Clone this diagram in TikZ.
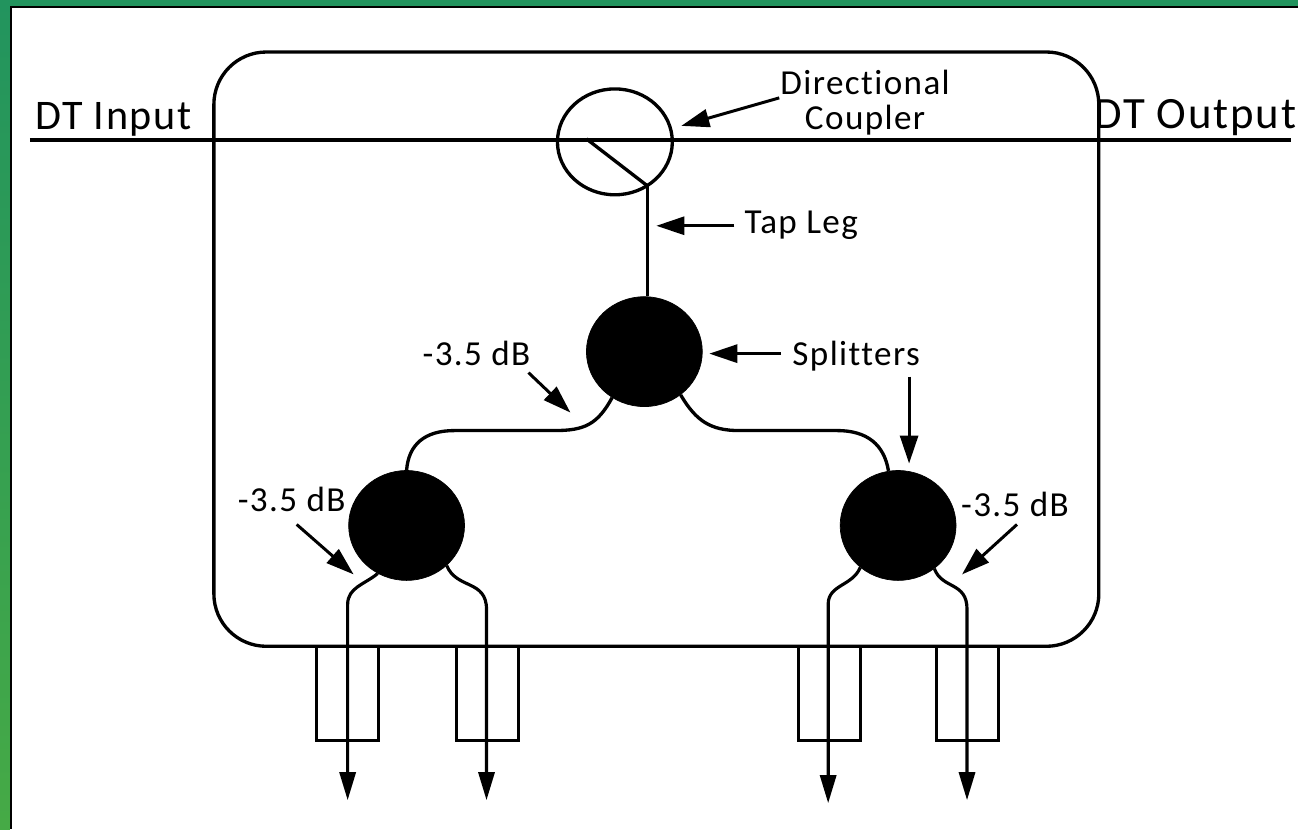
\documentclass[tikz,border=0pt]{standalone}
\usepackage{fontspec}
\setmainfont[LetterSpace=4,Ligatures=NoCommon]{Carlito}
\usetikzlibrary{arrows.meta,shapes.geometric}
\definecolor{framegreen}{HTML}{22945E}
\definecolor{framelight}{HTML}{46AA46}
\begin{document}
\begin{tikzpicture}[
    x=0.02cm, y=-0.02cm,
    wire/.style={line width=1.9pt, black},
    pointer/.style={line width=1.7pt, black, -{Triangle[length=0.56cm, width=0.36cm]}},
    outlet/.style={line width=1.8pt, black, -{Triangle[length=0.56cm, width=0.32cm]}},
    housing/.style={rectangle, draw=black, line width=1.9pt, rounded corners=1.05cm, minimum width=17.72cm, minimum height=11.9cm},
    coupler/.style={ellipse, draw=black, line width=1.9pt, minimum width=2.3cm, minimum height=2.12cm, inner sep=0pt},
    splitter/.style={ellipse, draw=black, fill=black, minimum width=2.32cm, minimum height=2.2cm, inner sep=0pt},
    port/.style={rectangle, draw=black, line width=1.6pt, minimum width=1.24cm, minimum height=1.88cm, inner sep=0pt},
    label/.style={font=\fontsize{20}{20}\selectfont, inner sep=0pt, align=center},
    biglabel/.style={font=\fontsize{24}{20}\selectfont, inner sep=0pt},
    outlabel/.style={font=\fontsize{25.5}{20}\selectfont, inner sep=0pt}
]
    % Frame
    \fill[framegreen] (0,0) rectangle (1299,7);
    \shade[top color=framegreen, bottom color=framelight] (0,0) rectangle (10,830);
    \draw[line width=1.5pt] (1299,7) -- (11,7) -- (11,830);
    \useasboundingbox (0,0) rectangle (1299,830);

    % Housing and through line
    \node[housing] (box) at (657,349.5) {};
    \coordinate (dtin) at (30,140);
    \coordinate (dtout) at (1292,140);
    \node[coupler] (dc) at (615.5,142) {};
    \draw[wire] (dtin) -- (dtout);
    \coordinate (dcmid) at (587,139);
    \coordinate (dctap) at (648,186);
    \draw[wire] (dcmid) -- (dctap);

    % Splitters
    \node[splitter] (s0) at (645,352) {};
    \node[splitter] (s1) at (407,526) {};
    \node[splitter] (s2) at (899,526) {};
    \draw[wire] (dctap) -- (s0.north -| dctap);

    % Ports
    \node[port] (p1) at (347.5,694) {};
    \node[port] (p2) at (488,694) {};
    \node[port] (p3) at (830,694) {};
    \node[port] (p4) at (968.3,694) {};

    % Branches
    \draw[wire] (s0.-125) .. controls (598,425) and (585,431) .. (555,431) -- (455,431) .. controls (425,431) and (409,445) .. (s1.north);
    \draw[wire] (s0.-50) .. controls (697,422) and (712,431) .. (740,431) -- (838,431) .. controls (868,431) and (885,445) .. (s2.100);

    % Outlets
    \coordinate (o1) at (348,801);
    \coordinate (o2) at (487,801);
    \coordinate (o3) at (829,804);
    \coordinate (o4) at (968,801);
    \draw[outlet] (s1.-121) .. controls (365,585) and (348,588) .. (348,605) -- (o1);
    \draw[outlet] (s1.-45) .. controls (457,590) and (487,580) .. (487,610) -- (o2);
    \draw[outlet] (s2.-132) .. controls (853,587) and (829,585) .. (829,605) -- (o3);
    \draw[outlet] (s2.-50) .. controls (943,590) and (968,582) .. (968,610) -- (o4);

    % Labels
    \node[biglabel] (lin) at (113.5,119.5) {DT Input};
    \node[outlabel] (lout) at (1196.5,117.5) {DT Output};
    \node[label] (ldc) at (866,103) {Directional\\Coupler};
    \node[label] (ltap) at (802,225) {Tap Leg};
    \node[label] (lspl) at (857,356) {Splitters};
    \node[label] (l1) at (477,354) {-3.5 dB};
    \node[label] (l2) at (292,500) {-3.5 dB};
    \node[label] (l3) at (1016,505) {-3.5 dB};

    % Pointers
    \coordinate (a0) at (682,126);
    \coordinate (a1) at (657,226);
    \coordinate (a2) at (710,354);
    \coordinate (a3) at (910,464);
    \coordinate (a4) at (571,413);
    \coordinate (a5) at (354,575);
    \coordinate (a6) at (963,575);
    \draw[pointer] (780,98) -- (a0);
    \draw[pointer] (910,377) -- (a3);
    \draw[pointer] (735,226) -- (a1);
    \draw[pointer] (782,354) -- (a2);
    \draw[pointer] (529,373) -- (a4);
    \draw[pointer] (297,525) -- (a5);
    \draw[pointer] (1018,525) -- (a6);
\end{tikzpicture}
\end{document}
